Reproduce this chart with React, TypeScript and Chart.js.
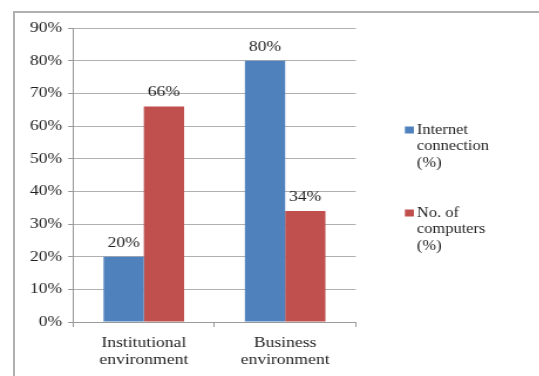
import React, { useEffect, useRef } from "react";
import { Chart, registerables } from "chart.js";

Chart.register(...registerables);

// Data
const categories: string[][] = [
  ["Institutional", "environment"],
  ["Business", "environment"],
];
const internetConnection: number[] = [20, 80];
const numberOfComputers: number[] = [66, 34];
const seriesLegend: string[][] = [
  ["Internet", "connection", "(%)"],
  ["No. of", "computers", "(%)"],
];
const seriesColors: string[] = ["#4F81BD", "#C0504D"];
const yTickMax = 90;
const yTickStep = 10;

const FONT_FAMILY = "'Liberation Serif', 'Times New Roman', serif";
const TEXT_COLOR = "#1e1e1e";

// The figure is drawn in a narrower canvas and widened horizontally,
// which gives the wide serif lettering of the original graphic.
const STRETCH = 1.17;
const PAGE_W = 539;
const PAGE_H = 376;
const CANVAS_W = PAGE_W / STRETCH;
const px = (x: number) => x / STRETCH;

// Writes each bar's value above it
const valueLabels = {
  id: "valueLabels",
  afterDatasetsDraw(chart: any) {
    const { ctx } = chart;
    ctx.save();
    ctx.font = `15px ${FONT_FAMILY}`;
    ctx.fillStyle = TEXT_COLOR;
    ctx.textAlign = "center";
    ctx.textBaseline = "middle";
    chart.data.datasets.forEach((ds: any, di: number) => {
      const meta = chart.getDatasetMeta(di);
      meta.data.forEach((bar: any, i: number) => {
        ctx.fillText(`${ds.data[i]}%`, bar.x, bar.y - 14);
      });
    });
    ctx.restore();
  },
};

// Legend on the right with wrapped series names
const sideLegend = {
  id: "sideLegend",
  afterDraw(chart: any) {
    const { ctx } = chart;
    const boxX = px(404);
    const textX = px(416);
    const firstY = 130;
    const lineH = 16.5;
    const groupGap = 83;
    ctx.save();
    ctx.font = `14px ${FONT_FAMILY}`;
    ctx.textAlign = "left";
    ctx.textBaseline = "middle";
    chart.data.datasets.forEach((ds: any, di: number) => {
      const y0 = firstY + di * groupGap;
      ctx.fillStyle = ds.backgroundColor;
      ctx.fillRect(boxX, y0 - 3.5, px(9), 7);
      ctx.fillStyle = TEXT_COLOR;
      seriesLegend[di].forEach((line, li) => {
        ctx.fillText(line, textX, y0 + li * lineH);
      });
    });
    ctx.restore();
  },
};

export default function App() {
  const canvasRef = useRef<HTMLCanvasElement | null>(null);

  useEffect(() => {
    if (!canvasRef.current) return;
    const chart = new Chart(canvasRef.current, {
      type: "bar",
      data: {
        labels: categories,
        datasets: [
          {
            label: seriesLegend[0].join(" "),
            data: internetConnection,
            backgroundColor: seriesColors[0],
            categoryPercentage: 0.57,
            barPercentage: 1.0,
          },
          {
            label: seriesLegend[1].join(" "),
            data: numberOfComputers,
            backgroundColor: seriesColors[1],
            categoryPercentage: 0.57,
            barPercentage: 1.0,
          },
        ],
      },
      options: {
        responsive: true,
        maintainAspectRatio: false,
        animation: false,
        layout: {
          padding: { top: 28, right: CANVAS_W - px(355), left: 0, bottom: 0 },
        },
        plugins: {
          legend: { display: false },
          tooltip: { enabled: false },
        },
        scales: {
          x: {
            grid: {
              display: true,
              drawOnChartArea: false,
              drawTicks: true,
              tickLength: 5,
              offset: true,
              color: "#9a9a9a",
            },
            border: { display: true, color: "#9a9a9a", width: 1 },
            ticks: {
              font: { family: FONT_FAMILY, size: 15, lineHeight: 17 / 15 },
              color: TEXT_COLOR,
              padding: 8,
              maxRotation: 0,
              autoSkip: false,
            },
            afterFit: (scale: any) => {
              scale.height = 54;
            },
          },
          y: {
            min: 0,
            max: yTickMax,
            grid: {
              color: "#b0b0b0",
              tickColor: "#9a9a9a",
              drawTicks: true,
              tickLength: px(5),
            },
            border: { display: true, color: "#9a9a9a", width: 1 },
            ticks: {
              stepSize: yTickStep,
              font: { family: FONT_FAMILY, size: 15 },
              color: TEXT_COLOR,
              padding: px(6),
              callback: (v: any) => `${v}%`,
            },
            afterFit: (scale: any) => {
              scale.width = px(73);
            },
          },
        },
      },
      plugins: [valueLabels, sideLegend],
    });
    return () => chart.destroy();
  }, []);

  return (
    <div
      style={{
        position: "fixed",
        left: 0,
        top: 0,
        width: PAGE_W,
        height: PAGE_H,
        background: "#ffffff",
        overflow: "hidden",
      }}
    >
      <div
        style={{
          position: "absolute",
          left: 13,
          top: 11,
          right: 0,
          bottom: 0,
          borderTop: "2px solid #b0b0b0",
          borderLeft: "2px solid #b0b0b0",
        }}
      />
      <div
        style={{
          position: "absolute",
          left: 0,
          top: 0,
          width: CANVAS_W,
          height: PAGE_H,
          transform: `scaleX(${STRETCH})`,
          transformOrigin: "0 0",
        }}
      >
        <canvas ref={canvasRef} />
      </div>
    </div>
  );
}
